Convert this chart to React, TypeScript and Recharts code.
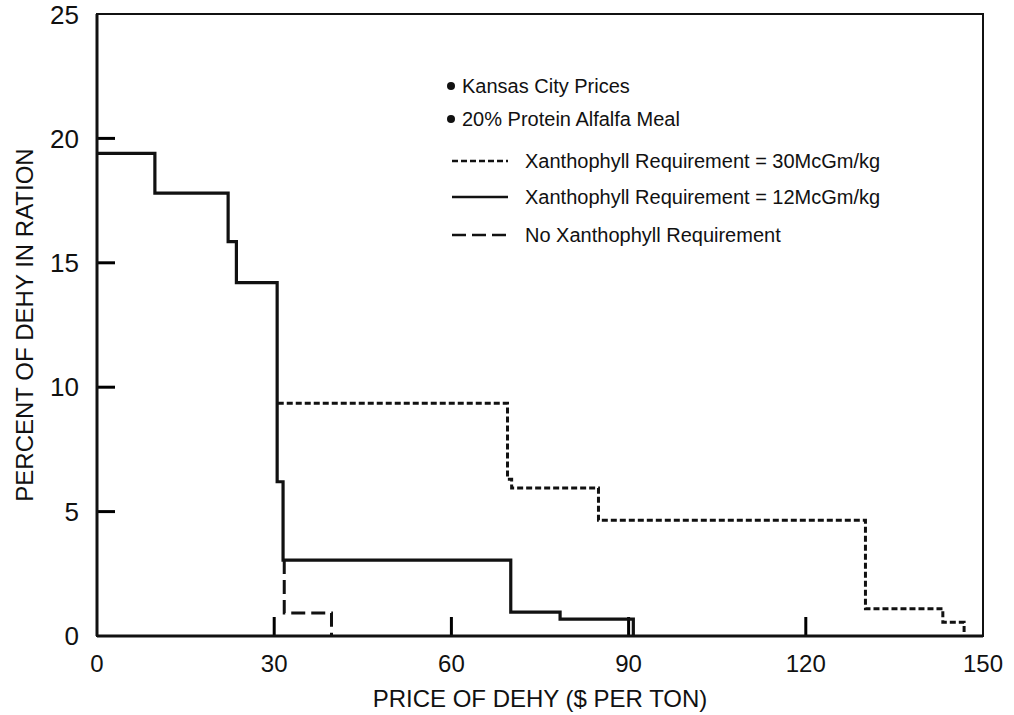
import { LineChart, Line, XAxis, YAxis, Legend, ReferenceArea, ReferenceLine } from "recharts";

// price of dehy ($ per ton) where each step starts, and percent of dehy in ration
const solidX = [0, 9.8, 22.2, 23.6, 30.5, 31.5, 70.05, 78.4, 90.8];
const solidY = [19.4, 17.8, 15.85, 14.2, 6.2, 3.05, 0.96, 0.68, 0];

const dottedX = [30.6, 69.5, 70.2, 84.9, 130.1, 143.2, 146.8];
const dottedY = [9.35, 6.3, 5.95, 4.65, 1.1, 0.55, 0];

const dashedX = [31.7, 31.7, 39.7];
const dashedY = [3.05, 0.92, 0];

const X_TICKS = [0, 30, 60, 90, 120, 150];
const Y_TICKS = [0, 5, 10, 15, 20, 25];

const NOTES = ["Kansas City Prices", "20% Protein Alfalfa Meal"];
const SERIES_NAMES = [
  "Xanthophyll Requirement = 30McGm/kg",
  "Xanthophyll Requirement = 12McGm/kg",
  "No Xanthophyll Requirement",
];

const INK = "#111";
const FONT = "'Liberation Sans', Arial, sans-serif";
const DASHES = ["6 3", undefined, "14 6"];

const WIDTH = 1014;
const HEIGHT = 715;
const MARGIN = { top: 14, right: 31, bottom: 0, left: 7 };
const X_AXIS_H = 79;
const Y_AXIS_W = 90;
const PLOT_W = WIDTH - MARGIN.left - MARGIN.right - Y_AXIS_W;
const PLOT_H = HEIGHT - MARGIN.top - MARGIN.bottom - X_AXIS_H;

// inward tick marks: length in px turned into data units
const X_TICK_LEN = (19 * 25) / PLOT_H;
const Y_TICK_LEN = (18 * 150) / PLOT_W;

const toRows = (xs: number[], ys: number[]) => xs.map((x, i) => ({ x, y: ys[i] }));

const textStyle = {
  position: "absolute" as const,
  fontFamily: FONT,
  fontSize: 20,
  lineHeight: "24px",
  color: INK,
  whiteSpace: "nowrap" as const,
};

function LegendBox() {
  const noteY = [26, 59];
  const seriesY = [101, 137, 175];
  return (
    <div style={{ position: "relative", width: 520, height: 200 }}>
      {NOTES.map((n, i) => (
        <div key={n}>
          <div
            style={{
              position: "absolute",
              left: 7,
              top: noteY[i] - 4,
              width: 8,
              height: 8,
              borderRadius: 4,
              background: INK,
            }}
          />
          <span style={{ ...textStyle, left: 22, top: noteY[i] - 12 }}>{n}</span>
        </div>
      ))}
      {SERIES_NAMES.map((n, i) => (
        <div key={n}>
          <svg width={58} height={6} style={{ position: "absolute", left: 12, top: seriesY[i] - 3 }}>
            <line x1={0} x2={56} y1={3} y2={3} stroke={INK} strokeWidth={2.5} strokeDasharray={DASHES[i]} />
          </svg>
          <span style={{ ...textStyle, left: 85, top: seriesY[i] - 12 }}>{n}</span>
        </div>
      ))}
    </div>
  );
}

export default function App() {
  return (
    <div style={{ position: "absolute", left: 0, top: 0, background: "#fff" }}>
      <LineChart width={WIDTH} height={HEIGHT} margin={MARGIN}>
        <XAxis
          dataKey="x"
          type="number"
          domain={[0, 150]}
          ticks={X_TICKS}
          height={X_AXIS_H}
          tickLine={false}
          tickMargin={13}
          tick={{ fill: INK, fontSize: 24, fontFamily: FONT }}
          axisLine={{ stroke: INK, strokeWidth: 3 }}
          allowDataOverflow
          label={{
            value: "PRICE OF DEHY ($ PER TON)",
            position: "insideBottom",
            offset: 8,
            fill: INK,
            fontSize: 24,
            fontFamily: FONT,
          }}
        />
        <YAxis
          type="number"
          domain={[0, 25]}
          ticks={Y_TICKS}
          width={Y_AXIS_W}
          tickLine={false}
          tickMargin={12}
          tick={{ fill: INK, fontSize: 26, fontFamily: FONT }}
          axisLine={{ stroke: INK, strokeWidth: 3 }}
          allowDataOverflow
          label={{
            value: "PERCENT OF DEHY IN RATION",
            angle: -90,
            position: "insideLeft",
            offset: 17,
            style: { textAnchor: "middle" },
            fill: INK,
            fontSize: 24,
            fontFamily: FONT,
          }}
        />
        <ReferenceArea x1={0} x2={150} y1={0} y2={25} fill="none" stroke={INK} strokeWidth={2} />
        {X_TICKS.slice(1, -1).map((v) => (
          <ReferenceLine
            key={`xt-${v}`}
            segment={[{ x: v, y: 0 }, { x: v, y: X_TICK_LEN }]}
            stroke="#000"
            strokeWidth={3}
            ifOverflow="visible"
          />
        ))}
        {Y_TICKS.slice(1, -1).map((v) => (
          <ReferenceLine
            key={`yt-${v}`}
            segment={[{ x: 0, y: v }, { x: Y_TICK_LEN, y: v }]}
            stroke="#000"
            strokeWidth={3}
            ifOverflow="visible"
          />
        ))}
        <Legend
          layout="vertical"
          align="center"
          verticalAlign="middle"
          wrapperStyle={{ left: 440, top: 60, width: 520, height: 200 }}
          content={() => <LegendBox />}
        />
        <Line
          data={toRows(dottedX, dottedY)}
          dataKey="y"
          name={SERIES_NAMES[0]}
          type="stepAfter"
          stroke={INK}
          strokeWidth={3}
          strokeDasharray={DASHES[0]}
          dot={false}
          isAnimationActive={false}
        />
        <Line
          data={toRows(dashedX, dashedY)}
          dataKey="y"
          name={SERIES_NAMES[2]}
          type="stepAfter"
          stroke={INK}
          strokeWidth={3}
          strokeDasharray={DASHES[2]}
          dot={false}
          isAnimationActive={false}
        />
        <Line
          data={toRows(solidX, solidY)}
          dataKey="y"
          name={SERIES_NAMES[1]}
          type="stepAfter"
          stroke={INK}
          strokeWidth={3.2}
          dot={false}
          isAnimationActive={false}
        />
      </LineChart>
    </div>
  );
}
